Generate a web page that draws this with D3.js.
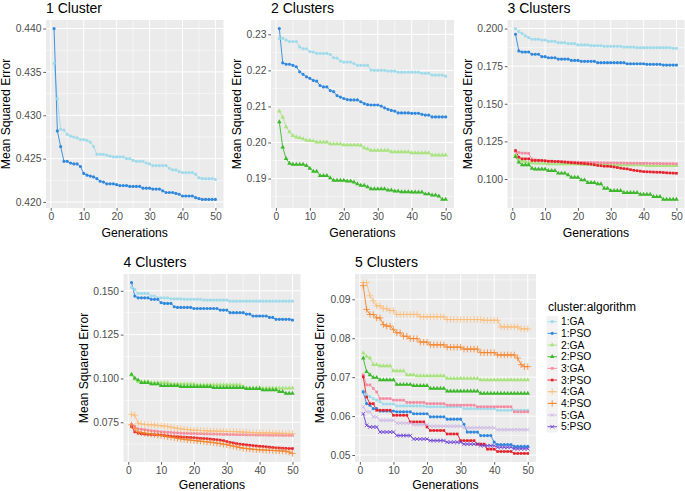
<!DOCTYPE html>
<html><head><meta charset="utf-8">
<script src="https://cdn.jsdelivr.net/npm/d3@7"></script>
<style>
body{margin:0;background:#fff}
svg{display:block}
text{font-family:"Liberation Sans",Arial,Helvetica,sans-serif}
</style>
</head><body>
<svg id="chart" width="685" height="491"></svg>
<script>
// ---------------- DATA ----------------
const generations = [1,2,3,4,5,6,7,8,9,10,11,12,13,14,15,16,17,18,19,20,21,22,23,24,25,26,27,28,29,30,31,32,33,34,35,36,37,38,39,40,41,42,43,44,45,46,47,48,49,50];
const seriesLabels = ["1:GA","1:PSO","2:GA","2:PSO","3:GA","3:PSO","4:GA","4:PSO","5:GA","5:PSO"];
const panelTitles = ["1 Cluster","2 Clusters","3 Clusters","4 Clusters","5 Clusters"];
const xTicks = [0,10,20,30,40,50];
const yTicks1 = [0.420,0.425,0.430,0.435,0.440];
const yTicks2 = [0.19,0.20,0.21,0.22,0.23];
const yTicks3 = [0.100,0.125,0.150,0.175,0.200];
const yTicks4 = [0.075,0.100,0.125,0.150];
const yTicks5 = [0.05,0.06,0.07,0.08,0.09];

// Panel 1 (1 cluster)
const p1_1GA = [0.4360,0.4319,0.4284,0.4283,0.4278,0.4276,0.4275,0.4274,0.4272,0.4272,
 0.4271,0.4269,0.4264,0.4255,0.4255,0.4255,0.4254,0.4253,0.4252,0.4252,
 0.4252,0.4252,0.4250,0.4250,0.4248,0.4247,0.4247,0.4247,0.4245,0.4244,
 0.4242,0.4242,0.4242,0.4242,0.4242,0.4239,0.4237,0.4237,0.4235,0.4234,
 0.4234,0.4234,0.4234,0.4232,0.4228,0.4227,0.4227,0.4227,0.4227,0.4226];
const p1_1PSO = [0.4400,0.4282,0.4264,0.4247,0.4247,0.4245,0.4244,0.4244,0.4241,0.4233,
 0.4231,0.4230,0.4229,0.4227,0.4224,0.4223,0.4221,0.4221,0.4221,0.4220,
 0.4219,0.4219,0.4219,0.4218,0.4218,0.4218,0.4218,0.4216,0.4216,0.4216,
 0.4215,0.4215,0.4215,0.4213,0.4211,0.4211,0.4211,0.4210,0.4209,0.4207,
 0.4207,0.4207,0.4207,0.4205,0.4204,0.4203,0.4203,0.4203,0.4203,0.4203];

// Panel 2 (2 clusters)
const p2_1GA = [0.2288,0.2289,0.2284,0.2280,0.2280,0.2280,0.2265,0.2260,0.2260,0.2252,
 0.2251,0.2247,0.2247,0.2247,0.2247,0.2244,0.2235,0.2234,0.2226,0.2223,
 0.2223,0.2223,0.2219,0.2214,0.2214,0.2214,0.2214,0.2201,0.2200,0.2200,
 0.2200,0.2200,0.2198,0.2198,0.2198,0.2195,0.2195,0.2195,0.2195,0.2195,
 0.2195,0.2195,0.2192,0.2192,0.2192,0.2187,0.2187,0.2187,0.2187,0.2184];
const p2_1PSO = [0.2316,0.2221,0.2217,0.2217,0.2214,0.2210,0.2196,0.2189,0.2182,0.2178,
 0.2172,0.2170,0.2158,0.2154,0.2154,0.2144,0.2141,0.2130,0.2126,0.2122,
 0.2119,0.2118,0.2118,0.2118,0.2113,0.2108,0.2105,0.2104,0.2104,0.2104,
 0.2101,0.2096,0.2092,0.2089,0.2087,0.2082,0.2082,0.2082,0.2082,0.2081,
 0.2081,0.2081,0.2078,0.2076,0.2076,0.2071,0.2071,0.2071,0.2071,0.2071];
const p2_2GA = [0.2087,0.2070,0.2043,0.2029,0.2019,0.2015,0.2013,0.2010,0.2006,0.2006,
 0.2004,0.2001,0.2001,0.2001,0.2001,0.1996,0.1996,0.1996,0.1996,0.1993,
 0.1993,0.1993,0.1993,0.1993,0.1992,0.1985,0.1982,0.1978,0.1978,0.1978,
 0.1978,0.1978,0.1978,0.1974,0.1974,0.1974,0.1974,0.1974,0.1974,0.1971,
 0.1971,0.1971,0.1971,0.1971,0.1971,0.1965,0.1965,0.1965,0.1965,0.1965];
const p2_2PSO = [0.2057,0.1987,0.1955,0.1942,0.1939,0.1939,0.1939,0.1939,0.1936,0.1928,
 0.1920,0.1920,0.1908,0.1908,0.1908,0.1902,0.1895,0.1895,0.1895,0.1895,
 0.1893,0.1893,0.1890,0.1885,0.1881,0.1881,0.1877,0.1871,0.1871,0.1871,
 0.1871,0.1871,0.1868,0.1868,0.1865,0.1865,0.1863,0.1863,0.1863,0.1862,
 0.1862,0.1862,0.1862,0.1857,0.1857,0.1854,0.1854,0.1851,0.1842,0.1842];

// Panel 3 (3 clusters)
const p3_1GA = [0.2000,0.1980,0.1967,0.1951,0.1940,0.1929,0.1929,0.1929,0.1924,0.1924,
 0.1915,0.1915,0.1915,0.1906,0.1906,0.1906,0.1900,0.1900,0.1900,0.1891,
 0.1891,0.1891,0.1891,0.1886,0.1886,0.1886,0.1886,0.1882,0.1882,0.1882,
 0.1882,0.1882,0.1882,0.1877,0.1877,0.1877,0.1877,0.1873,0.1873,0.1873,
 0.1873,0.1873,0.1873,0.1873,0.1873,0.1873,0.1873,0.1873,0.1869,0.1869];
const p3_1PSO = [0.1962,0.1851,0.1844,0.1844,0.1844,0.1829,0.1829,0.1829,0.1813,0.1813,
 0.1806,0.1806,0.1806,0.1797,0.1797,0.1797,0.1797,0.1788,0.1788,0.1788,
 0.1782,0.1782,0.1782,0.1782,0.1782,0.1773,0.1773,0.1773,0.1773,0.1773,
 0.1773,0.1773,0.1773,0.1773,0.1766,0.1766,0.1766,0.1766,0.1766,0.1766,
 0.1762,0.1762,0.1762,0.1762,0.1762,0.1757,0.1757,0.1757,0.1757,0.1757];
const p3_2GA = [0.1160,0.1131,0.1120,0.1115,0.1110,0.1107,0.1105,0.1105,0.1105,0.1103,
 0.1100,0.1100,0.1100,0.1100,0.1100,0.1100,0.1100,0.1100,0.1100,0.1100,
 0.1097,0.1097,0.1097,0.1097,0.1097,0.1097,0.1097,0.1097,0.1097,0.1097,
 0.1093,0.1093,0.1093,0.1093,0.1093,0.1093,0.1093,0.1093,0.1093,0.1093,
 0.1089,0.1089,0.1089,0.1089,0.1089,0.1089,0.1089,0.1089,0.1089,0.1089];
const p3_2PSO = [0.1149,0.1111,0.1094,0.1094,0.1094,0.1071,0.1065,0.1065,0.1065,0.1065,
 0.1056,0.1056,0.1056,0.1038,0.1038,0.1038,0.1027,0.1011,0.1011,0.1011,
 0.0993,0.0993,0.0976,0.0976,0.0976,0.0967,0.0967,0.0938,0.0938,0.0922,
 0.0922,0.0922,0.0922,0.0909,0.0909,0.0909,0.0909,0.0909,0.0898,0.0898,
 0.0898,0.0898,0.0882,0.0882,0.0882,0.0864,0.0864,0.0864,0.0864,0.0864];
const p3_3GA = [0.1183,0.1176,0.1172,0.1172,0.1170,0.1132,0.1127,0.1125,0.1122,0.1120,
 0.1118,0.1118,0.1117,0.1116,0.1115,0.1115,0.1114,0.1113,0.1112,0.1112,
 0.1111,0.1111,0.1110,0.1110,0.1109,0.1109,0.1108,0.1108,0.1107,0.1107,
 0.1107,0.1106,0.1106,0.1106,0.1105,0.1105,0.1105,0.1105,0.1104,0.1104,
 0.1104,0.1103,0.1103,0.1103,0.1103,0.1102,0.1102,0.1102,0.1102,0.1101];
const p3_3PSO = [0.1189,0.1145,0.1134,0.1134,0.1134,0.1123,0.1123,0.1123,0.1123,0.1121,
 0.1118,0.1118,0.1116,0.1116,0.1114,0.1112,0.1110,0.1108,0.1107,0.1105,
 0.1104,0.1102,0.1100,0.1098,0.1094,0.1090,0.1088,0.1085,0.1085,0.1083,
 0.1080,0.1076,0.1072,0.1069,0.1067,0.1062,0.1058,0.1055,0.1052,0.1049,
 0.1048,0.1047,0.1046,0.1045,0.1045,0.1043,0.1041,0.1040,0.1039,0.1038];

// Panel 4 (4 clusters)
const p4_1GA = [0.1520,0.1508,0.1485,0.1485,0.1485,0.1485,0.1470,0.1470,0.1460,0.1460,
 0.1460,0.1460,0.1454,0.1454,0.1454,0.1454,0.1451,0.1451,0.1451,0.1451,
 0.1451,0.1451,0.1447,0.1447,0.1447,0.1447,0.1447,0.1447,0.1447,0.1447,
 0.1441,0.1441,0.1441,0.1441,0.1441,0.1441,0.1441,0.1441,0.1441,0.1441,
 0.1441,0.1441,0.1441,0.1441,0.1441,0.1441,0.1441,0.1441,0.1441,0.1441];
const p4_1PSO = [0.1547,0.1470,0.1460,0.1460,0.1460,0.1460,0.1451,0.1451,0.1451,0.1432,
 0.1428,0.1428,0.1428,0.1409,0.1405,0.1405,0.1405,0.1405,0.1405,0.1399,
 0.1399,0.1399,0.1399,0.1399,0.1399,0.1399,0.1399,0.1390,0.1390,0.1390,
 0.1375,0.1375,0.1375,0.1375,0.1375,0.1367,0.1367,0.1356,0.1356,0.1356,
 0.1356,0.1356,0.1348,0.1348,0.1337,0.1337,0.1337,0.1337,0.1337,0.1333];
const p4_2GA = [0.1020,0.0995,0.0982,0.0982,0.0982,0.0982,0.0976,0.0976,0.0976,0.0976,
 0.0976,0.0976,0.0968,0.0968,0.0968,0.0968,0.0968,0.0968,0.0968,0.0968,
 0.0963,0.0963,0.0963,0.0963,0.0963,0.0963,0.0963,0.0963,0.0963,0.0963,
 0.0963,0.0963,0.0963,0.0963,0.0953,0.0944,0.0944,0.0944,0.0944,0.0944,
 0.0944,0.0944,0.0944,0.0944,0.0944,0.0944,0.0944,0.0944,0.0944,0.0944];
const p4_2PSO = [0.1023,0.1001,0.0991,0.0976,0.0976,0.0976,0.0968,0.0968,0.0968,0.0959,
 0.0959,0.0959,0.0959,0.0959,0.0959,0.0953,0.0953,0.0953,0.0953,0.0953,
 0.0953,0.0953,0.0953,0.0953,0.0953,0.0947,0.0947,0.0947,0.0947,0.0947,
 0.0947,0.0947,0.0947,0.0947,0.0947,0.0942,0.0942,0.0942,0.0942,0.0942,
 0.0934,0.0934,0.0934,0.0934,0.0934,0.0925,0.0925,0.0915,0.0915,0.0915];
const p4_3GA = [0.0738,0.0725,0.0712,0.0710,0.0708,0.0705,0.0702,0.0700,0.0698,0.0696,
 0.0694,0.0693,0.0692,0.0690,0.0689,0.0688,0.0687,0.0687,0.0686,0.0686,
 0.0685,0.0685,0.0684,0.0684,0.0683,0.0683,0.0682,0.0682,0.0681,0.0681,
 0.0680,0.0680,0.0679,0.0679,0.0679,0.0678,0.0678,0.0678,0.0677,0.0677,
 0.0677,0.0677,0.0676,0.0676,0.0676,0.0676,0.0675,0.0675,0.0675,0.0675];
const p4_3PSO = [0.0725,0.0695,0.0688,0.0685,0.0683,0.0681,0.0680,0.0679,0.0678,0.0677,
 0.0674,0.0672,0.0670,0.0668,0.0667,0.0666,0.0665,0.0664,0.0663,0.0662,
 0.0660,0.0658,0.0657,0.0656,0.0654,0.0652,0.0650,0.0648,0.0645,0.0640,
 0.0635,0.0632,0.0628,0.0625,0.0623,0.0621,0.0619,0.0617,0.0615,0.0613,
 0.0612,0.0610,0.0608,0.0606,0.0604,0.0603,0.0602,0.0601,0.0600,0.0600];
const p4_4GA = [0.0795,0.0790,0.0745,0.0740,0.0738,0.0736,0.0735,0.0734,0.0732,0.0730,
 0.0728,0.0726,0.0722,0.0718,0.0715,0.0712,0.0710,0.0708,0.0706,0.0705,
 0.0704,0.0703,0.0702,0.0701,0.0700,0.0700,0.0699,0.0699,0.0698,0.0698,
 0.0697,0.0697,0.0696,0.0695,0.0694,0.0693,0.0692,0.0691,0.0691,0.0690,
 0.0690,0.0689,0.0689,0.0688,0.0688,0.0687,0.0687,0.0686,0.0686,0.0685];
const p4_4PSO = [0.0735,0.0715,0.0695,0.0690,0.0688,0.0685,0.0683,0.0680,0.0677,0.0675,
 0.0672,0.0668,0.0665,0.0662,0.0658,0.0655,0.0653,0.0650,0.0648,0.0646,
 0.0644,0.0642,0.0640,0.0638,0.0636,0.0634,0.0631,0.0628,0.0625,0.0622,
 0.0618,0.0614,0.0610,0.0606,0.0602,0.0600,0.0598,0.0596,0.0594,0.0593,
 0.0592,0.0591,0.0590,0.0589,0.0588,0.0587,0.0586,0.0585,0.0580,0.0572];

// Panel 5 (5 clusters)
const p5_1GA = [0.0665,0.0655,0.0650,0.0645,0.0641,0.0637,0.0631,0.0631,0.0631,0.0631,
 0.0626,0.0626,0.0626,0.0626,0.0626,0.0626,0.0626,0.0626,0.0626,0.0624,
 0.0624,0.0624,0.0624,0.0624,0.0624,0.0624,0.0624,0.0624,0.0624,0.0624,
 0.0619,0.0619,0.0619,0.0619,0.0619,0.0619,0.0619,0.0619,0.0619,0.0619,
 0.0615,0.0615,0.0615,0.0615,0.0615,0.0615,0.0615,0.0615,0.0615,0.0615];
const p5_1PSO = [0.0662,0.0632,0.0628,0.0619,0.0619,0.0613,0.0613,0.0613,0.0613,0.0613,
 0.0611,0.0611,0.0611,0.0611,0.0611,0.0606,0.0606,0.0606,0.0606,0.0606,
 0.0598,0.0598,0.0598,0.0598,0.0598,0.0592,0.0592,0.0592,0.0592,0.0592,
 0.0579,0.0559,0.0559,0.0559,0.0559,0.0550,0.0550,0.0550,0.0550,0.0533,
 0.0527,0.0527,0.0527,0.0527,0.0527,0.0522,0.0522,0.0522,0.0522,0.0522];
const p5_2GA = [0.0762,0.0753,0.0749,0.0732,0.0732,0.0729,0.0729,0.0729,0.0729,0.0716,
 0.0716,0.0716,0.0716,0.0706,0.0706,0.0706,0.0703,0.0703,0.0703,0.0703,
 0.0703,0.0703,0.0703,0.0703,0.0703,0.0697,0.0697,0.0697,0.0697,0.0697,
 0.0697,0.0697,0.0697,0.0697,0.0697,0.0693,0.0693,0.0693,0.0693,0.0693,
 0.0693,0.0693,0.0693,0.0693,0.0693,0.0693,0.0693,0.0693,0.0693,0.0693];
const p5_2PSO = [0.0749,0.0714,0.0706,0.0699,0.0699,0.0693,0.0693,0.0693,0.0693,0.0693,
 0.0681,0.0681,0.0681,0.0681,0.0681,0.0678,0.0678,0.0678,0.0678,0.0678,
 0.0671,0.0671,0.0671,0.0671,0.0671,0.0664,0.0664,0.0664,0.0664,0.0664,
 0.0664,0.0664,0.0664,0.0664,0.0664,0.0658,0.0658,0.0658,0.0658,0.0658,
 0.0658,0.0658,0.0658,0.0658,0.0658,0.0658,0.0658,0.0658,0.0658,0.0658];
const p5_3GA = [0.0706,0.0680,0.0680,0.0671,0.0662,0.0645,0.0645,0.0645,0.0645,0.0641,
 0.0641,0.0641,0.0641,0.0635,0.0635,0.0635,0.0635,0.0635,0.0635,0.0632,
 0.0632,0.0632,0.0632,0.0632,0.0632,0.0628,0.0628,0.0628,0.0628,0.0628,
 0.0628,0.0628,0.0628,0.0628,0.0624,0.0624,0.0624,0.0624,0.0624,0.0624,
 0.0624,0.0624,0.0624,0.0624,0.0624,0.0611,0.0611,0.0611,0.0611,0.0611];
const p5_3PSO = [0.0701,0.0649,0.0632,0.0632,0.0615,0.0615,0.0615,0.0615,0.0615,0.0602,
 0.0602,0.0602,0.0602,0.0602,0.0585,0.0585,0.0585,0.0585,0.0585,0.0572,
 0.0563,0.0563,0.0563,0.0563,0.0563,0.0554,0.0554,0.0554,0.0554,0.0537,
 0.0537,0.0537,0.0537,0.0537,0.0528,0.0528,0.0528,0.0515,0.0515,0.0515,
 0.0509,0.0509,0.0509,0.0509,0.0509,0.0504,0.0504,0.0504,0.0504,0.0504];
const p5_4GA = [0.0943,0.0943,0.0909,0.0896,0.0883,0.0883,0.0876,0.0876,0.0871,0.0871,
 0.0861,0.0861,0.0861,0.0861,0.0861,0.0861,0.0861,0.0855,0.0855,0.0855,
 0.0855,0.0855,0.0855,0.0855,0.0855,0.0848,0.0848,0.0848,0.0848,0.0848,
 0.0848,0.0848,0.0848,0.0848,0.0848,0.0848,0.0846,0.0846,0.0846,0.0846,
 0.0846,0.0829,0.0829,0.0829,0.0829,0.0829,0.0829,0.0824,0.0824,0.0824];
const p5_4PSO = [0.0935,0.0874,0.0861,0.0861,0.0852,0.0852,0.0835,0.0831,0.0831,0.0822,
 0.0814,0.0814,0.0805,0.0805,0.0799,0.0799,0.0799,0.0790,0.0790,0.0790,
 0.0783,0.0783,0.0783,0.0783,0.0783,0.0777,0.0777,0.0777,0.0777,0.0777,
 0.0772,0.0772,0.0772,0.0772,0.0772,0.0763,0.0763,0.0763,0.0763,0.0763,
 0.0757,0.0757,0.0757,0.0757,0.0757,0.0757,0.0749,0.0732,0.0727,0.0727];
const p5_5GA = [0.0624,0.0611,0.0611,0.0598,0.0598,0.0589,0.0589,0.0589,0.0589,0.0589,
 0.0582,0.0582,0.0582,0.0582,0.0582,0.0578,0.0578,0.0578,0.0578,0.0578,
 0.0574,0.0574,0.0574,0.0574,0.0574,0.0574,0.0574,0.0574,0.0574,0.0574,
 0.0570,0.0570,0.0570,0.0570,0.0570,0.0570,0.0570,0.0570,0.0570,0.0570,
 0.0565,0.0565,0.0565,0.0565,0.0565,0.0565,0.0565,0.0565,0.0565,0.0565];
const p5_5PSO = [0.0606,0.0576,0.0572,0.0572,0.0572,0.0559,0.0559,0.0559,0.0559,0.0559,
 0.0550,0.0550,0.0550,0.0550,0.0550,0.0541,0.0541,0.0541,0.0541,0.0541,
 0.0537,0.0537,0.0537,0.0537,0.0537,0.0533,0.0533,0.0533,0.0533,0.0533,
 0.0528,0.0528,0.0528,0.0528,0.0528,0.0524,0.0524,0.0524,0.0524,0.0524,
 0.0520,0.0520,0.0520,0.0520,0.0520,0.0516,0.0516,0.0516,0.0516,0.0516];

// ---------------- STYLE / LAYOUT ----------------
const seriesColors = ["#9fdbea","#3088dd","#a9e37f","#3db82c","#f48aa0","#e5202a","#fbbd77","#f5842a","#cdb7e5","#6a3fd5"];

const panels = [
  {title:panelTitles[0], yTicks:yTicks1, fmt:".3f", series:[p1_1GA,p1_1PSO]},
  {title:panelTitles[1], yTicks:yTicks2, fmt:".2f", series:[p2_1GA,p2_1PSO,p2_2GA,p2_2PSO]},
  {title:panelTitles[2], yTicks:yTicks3, fmt:".3f", series:[p3_1GA,p3_1PSO,p3_2GA,p3_2PSO,p3_3GA,p3_3PSO]},
  {title:panelTitles[3], yTicks:yTicks4, fmt:".3f", series:[p4_1GA,p4_1PSO,p4_2GA,p4_2PSO,p4_3GA,p4_3PSO,p4_4GA,p4_4PSO]},
  {title:panelTitles[4], yTicks:yTicks5, fmt:".2f", series:[p5_1GA,p5_1PSO,p5_2GA,p5_2PSO,p5_3GA,p5_3PSO,p5_4GA,p5_4PSO,p5_5GA,p5_5PSO]}
];
const layout = [
  {left:46,    right:223.5, top:20,  bottom:208, ylabX:9.7,   genY:236.8},
  {left:271,   right:454,   top:20,  bottom:208, ylabX:241,   genY:236.8},
  {left:507.5, right:684.5, top:20,  bottom:208, ylabX:472,   genY:236.8},
  {left:123.5, right:300.5, top:274, bottom:462, ylabX:87.5,  genY:488.6},
  {left:355,   right:536,   top:274, bottom:462, ylabX:323.5, genY:488.6}
];

const symPlus = d3.symbolPlus || d3.symbolCross;
const symX = d3.symbolX || d3.symbolCross;
const clusterShapes = [
  {type:d3.symbolCircle, size:8, stroke:false},
  {type:d3.symbolTriangle, size:9, stroke:false},
  {type:d3.symbolSquare, size:7, stroke:false},
  {type:symPlus, size:16, stroke:true},
  {type:symX, size:10, stroke:true}
];

const svg = d3.select("#chart");
svg.append("rect").attr("width",685).attr("height",491).attr("fill","#fff");

panels.forEach((p, k) => {
  const L = layout[k];
  const n = generations.length;
  const xPad = (generations[n-1]-generations[0])*0.05;
  const x = d3.scaleLinear().domain([generations[0]-xPad, generations[n-1]+xPad]).range([L.left, L.right]);
  const all = p.series.flat();
  const [mn, mx] = d3.extent(all);
  const yPad = (mx-mn)*0.05;
  const y = d3.scaleLinear().domain([mn-yPad, mx+yPad]).range([L.bottom, L.top]);
  const g = svg.append("g");

  g.append("rect").attr("x",L.left).attr("y",L.top)
    .attr("width",L.right-L.left).attr("height",L.bottom-L.top).attr("fill","#EBEBEB");

  // minor grid
  const yStep = p.yTicks[1]-p.yTicks[0];
  const yMinor = [];
  for (let i=-1;i<p.yTicks.length;i++){ const v = p.yTicks[0]+yStep*(i+0.5); if (v>y.domain()[0] && v<y.domain()[1]) yMinor.push(v); }
  const xStep = xTicks[1]-xTicks[0];
  const xMinor = [];
  for (let i=-1;i<xTicks.length;i++){ const v = xTicks[0]+xStep*(i+0.5); if (v>x.domain()[0] && v<x.domain()[1]) xMinor.push(v); }
  g.selectAll(".ymin").data(yMinor).join("line").attr("x1",L.left).attr("x2",L.right)
    .attr("y1",d=>y(d)).attr("y2",d=>y(d)).attr("stroke","#fff").attr("stroke-width",0.5);
  g.selectAll(".xmin").data(xMinor).join("line").attr("y1",L.top).attr("y2",L.bottom)
    .attr("x1",d=>x(d)).attr("x2",d=>x(d)).attr("stroke","#fff").attr("stroke-width",0.5);
  // major grid
  g.selectAll(".ymaj").data(p.yTicks).join("line").attr("x1",L.left).attr("x2",L.right)
    .attr("y1",d=>y(d)).attr("y2",d=>y(d)).attr("stroke","#fff").attr("stroke-width",1);
  g.selectAll(".xmaj").data(xTicks).join("line").attr("y1",L.top).attr("y2",L.bottom)
    .attr("x1",d=>x(d)).attr("x2",d=>x(d)).attr("stroke","#fff").attr("stroke-width",1);

  // lines
  const line = d3.line().x((d,i)=>x(generations[i])).y(d=>y(d));
  p.series.forEach((vals, si) => {
    g.append("path").datum(vals).attr("d", line).attr("fill","none")
      .attr("stroke", seriesColors[si]).attr("stroke-width",0.9);
  });
  // points
  p.series.forEach((vals, si) => {
    const sh = clusterShapes[Math.floor(si/2)];
    const sym = d3.symbol().type(sh.type).size(sh.size);
    g.selectAll(null).data(vals).join("path")
      .attr("transform",(d,i)=>`translate(${x(generations[i])},${y(d)})`)
      .attr("d", sym)
      .attr("fill", sh.stroke ? "none" : seriesColors[si])
      .attr("stroke", sh.stroke ? seriesColors[si] : "none")
      .attr("stroke-width", 0.8);
  });

  // axes
  const ya = g.append("g").attr("transform",`translate(${L.left},0)`)
    .call(d3.axisLeft(y).tickValues(p.yTicks).tickFormat(d3.format(p.fmt)).tickSize(2.7).tickPadding(1.8));
  const xa = g.append("g").attr("transform",`translate(0,${L.bottom})`)
    .call(d3.axisBottom(x).tickValues(xTicks).tickFormat(d3.format("d")).tickSize(2.7).tickPadding(1.5));
  [ya, xa].forEach(a => {
    a.select(".domain").remove();
    a.selectAll(".tick line").attr("stroke","#333").attr("stroke-width",0.8);
    a.selectAll(".tick text").attr("fill","#4D4D4D").style("font-size","10.3px")
      .style("font-family",'"Liberation Sans",Arial,sans-serif');
  });

  // titles
  g.append("text").attr("x",L.left).attr("y",L.top-7.3).text(p.title)
    .style("font-size","14px").attr("fill","#000");
  g.append("text").attr("x",(L.left+L.right)/2).attr("y",L.genY).attr("text-anchor","middle")
    .text("Generations").style("font-size","12.2px").attr("fill","#000");
  g.append("text").attr("transform",`translate(${L.ylabX},${(L.top+L.bottom)/2}) rotate(-90)`)
    .attr("text-anchor","middle").text("Mean Squared Error").style("font-size","12.2px").attr("fill","#000");
});

// legend
const lg = svg.append("g");
lg.append("text").attr("x",548).attr("y",311).text("cluster:algorithm").style("font-size","12px").attr("fill","#000");
seriesLabels.forEach((lab, i) => {
  const cy = 321.7 + i*11.67;
  lg.append("rect").attr("x",546.5).attr("y",cy-5.8).attr("width",11.5).attr("height",11.6).attr("fill","#F2F2F2");
  lg.append("line").attr("x1",547.5).attr("x2",557).attr("y1",cy).attr("y2",cy)
    .attr("stroke",seriesColors[i]).attr("stroke-width",0.9);
  const sh = clusterShapes[Math.floor(i/2)];
  lg.append("path").attr("transform",`translate(552.2,${cy})`)
    .attr("d", d3.symbol().type(sh.type).size(sh.size)())
    .attr("fill", sh.stroke ? "none" : seriesColors[i])
    .attr("stroke", sh.stroke ? seriesColors[i] : "none").attr("stroke-width",0.8);
  lg.append("text").attr("x",561).attr("y",cy).attr("dy","0.36em").text(lab)
    .style("font-size","10.3px").attr("fill","#000");
});
</script>
</body></html>
